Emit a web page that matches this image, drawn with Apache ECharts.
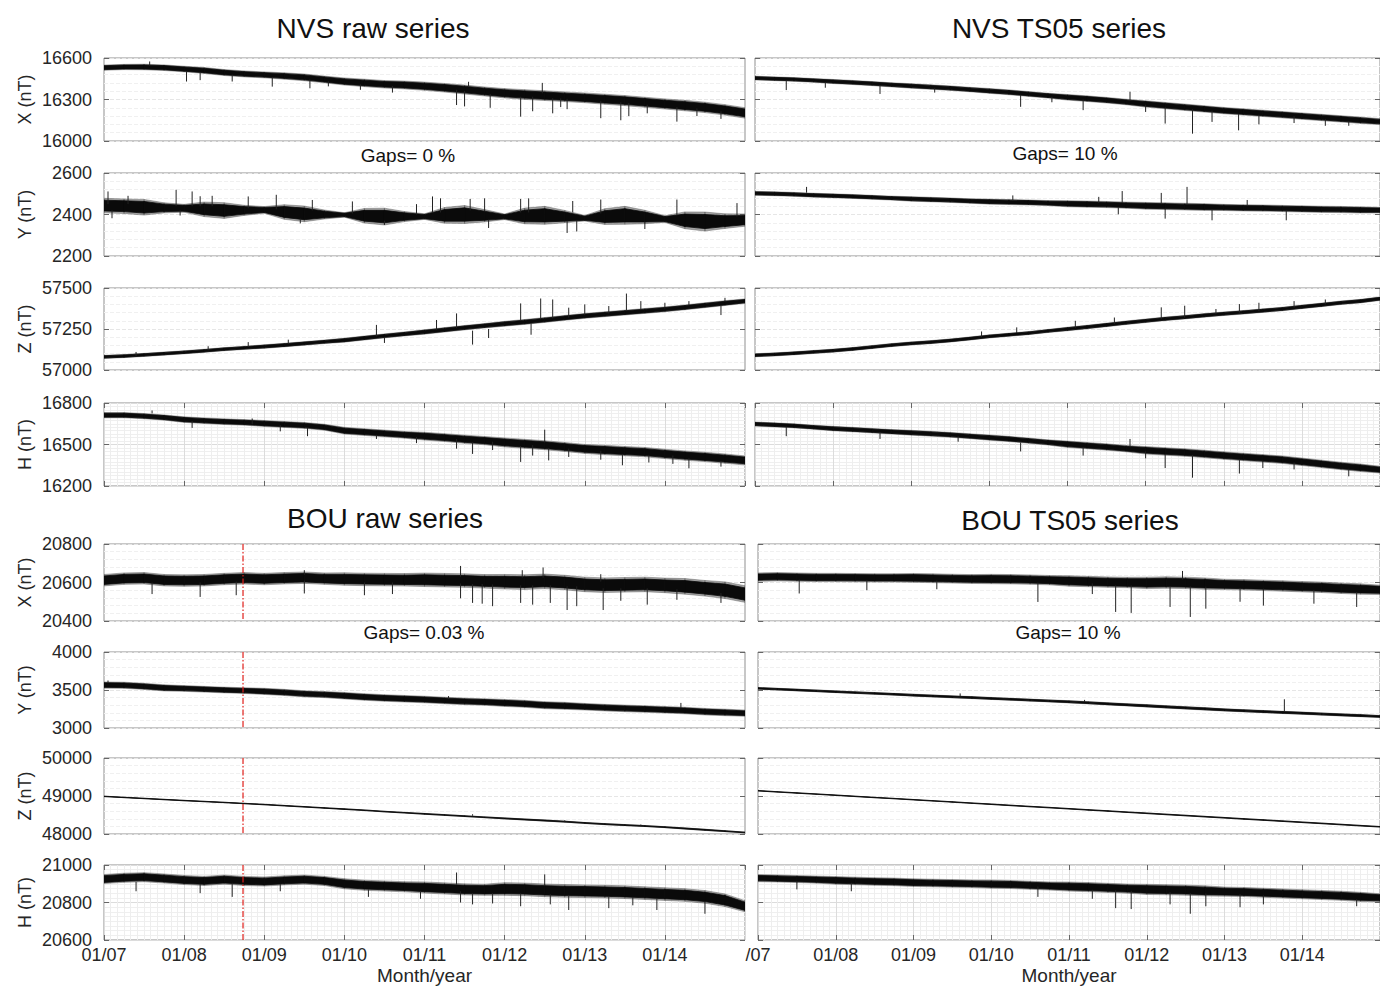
<!DOCTYPE html>
<html><head><meta charset="utf-8">
<script src="https://cdn.jsdelivr.net/npm/echarts@6/dist/echarts.min.js"></script>
<style>html,body{margin:0;padding:0;background:#fff;overflow:hidden}#c{width:1380px;height:986px}</style>
</head><body><div id="c"></div>
<script>
// quarterly sample times (decimal year)
const T = [2007,2007.25,2007.5,2007.75,2008,2008.25,2008.5,2008.75,2009,2009.25,2009.5,2009.75,2010,2010.25,2010.5,2010.75,2011,2011.25,2011.5,2011.75,2012,2012.25,2012.5,2012.75,2013,2013.25,2013.5,2013.75,2014,2014.25,2014.5,2014.75,2015];
const xLabelsLeft  = ['01/07','01/08','01/09','01/10','01/11','01/12','01/13','01/14'];
const xLabelsRight = ['/07','01/08','01/09','01/10','01/11','01/12','01/13','01/14'];
const markerTime = 2008.735;

// mid = centre of the noise band, amp = half-width of the dense core, spk = [time, from, to] single excursions

// ---- NVS raw ----
const nvsRawX_mid = [16530,16535,16535,16530,16520,16510,16495,16485,16478,16470,16460,16445,16430,16420,16410,16405,16396,16385,16372,16358,16345,16336,16328,16320,16312,16302,16292,16280,16268,16256,16243,16225,16203];
const nvsRawX_amp = [14,14,15,15,15,16,16,16,16,17,18,18,19,20,20,21,22,23,24,24,25,26,26,26,26,27,27,27,27,28,28,28,28];
const nvsRawX_spk = [[2007.57,16545,16575],[2008.03,16505,16430],[2008.2,16500,16440],[2008.6,16480,16430],[2009.1,16462,16393],[2009.57,16445,16381],[2009.8,16432,16395],[2010.2,16410,16370],[2010.6,16398,16350],[2011.4,16370,16260],[2011.5,16362,16250],[2011.55,16395,16428],[2011.82,16340,16240],[2012.2,16320,16176],[2012.35,16320,16215],[2012.47,16345,16420],[2012.6,16310,16200],[2012.7,16308,16245],[2012.78,16305,16230],[2013.2,16290,16165],[2013.45,16280,16150],[2013.55,16275,16180],[2013.78,16262,16200],[2014.15,16245,16140],[2014.4,16235,16180],[2014.7,16215,16160]];

const nvsRawY_mid = [2443,2440,2435,2432,2430,2425,2419,2420,2422,2412,2403,2400,2398,2394,2390,2390,2390,2396,2400,2394,2389,2393,2396,2390,2382,2390,2396,2388,2378,2372,2366,2368,2373];
const nvsRawY_amp = [26,26,28,18,14,26,28,18,12,26,28,16,8,26,30,18,10,28,32,22,10,28,32,22,10,28,32,24,12,30,34,26,22];
const nvsRawY_spk = [[2007.05,2450,2511],[2007.1,2420,2382],[2007.3,2450,2490],[2007.9,2440,2519],[2007.95,2420,2395],[2008.1,2440,2511],[2008.2,2440,2488],[2008.35,2440,2490],[2008.8,2430,2487],[2009.15,2425,2495],[2009.45,2380,2357],[2009.6,2420,2470],[2010.1,2405,2463],[2010.5,2370,2350],[2010.9,2400,2450],[2011.1,2410,2487],[2011.2,2410,2478],[2011.57,2420,2475],[2011.75,2415,2478],[2011.8,2375,2335],[2012.2,2410,2475],[2012.3,2410,2478],[2012.78,2370,2311],[2012.85,2410,2465],[2012.9,2370,2318],[2013.2,2405,2472],[2013.75,2365,2330],[2014.15,2395,2472],[2014.9,2390,2455]];

const nvsRawZ_mid = [57080,57085,57092,57100,57108,57117,57127,57135,57143,57152,57162,57172,57182,57195,57208,57220,57232,57245,57258,57270,57282,57293,57305,57318,57330,57340,57350,57360,57370,57382,57395,57408,57420];
const nvsRawZ_amp = [7,7,7,7,7,7,7,7,8,8,8,8,9,9,9,9,10,10,10,10,11,11,11,11,11,11,11,11,11,11,11,11,10];
const nvsRawZ_spk = [[2007.4,57085,57110],[2008.3,57120,57145],[2008.8,57140,57170],[2009.3,57160,57185],[2010.4,57205,57275],[2010.5,57200,57165],[2011.15,57245,57305],[2011.4,57255,57345],[2011.6,57240,57155],[2011.8,57250,57195],[2012.2,57300,57406],[2012.33,57285,57215],[2012.45,57310,57436],[2012.6,57315,57430],[2012.8,57320,57380],[2013.0,57335,57400],[2013.3,57345,57390],[2013.52,57360,57466],[2013.7,57365,57420],[2014.0,57375,57410],[2014.3,57395,57420],[2014.7,57395,57335],[2014.75,57415,57440]];

const nvsRawH_mid = [16712,16712,16705,16695,16680,16672,16665,16660,16652,16645,16638,16625,16600,16590,16580,16570,16560,16550,16538,16528,16515,16505,16495,16482,16468,16460,16452,16445,16432,16420,16410,16398,16385];
const nvsRawH_amp = [14,14,14,14,15,15,15,15,16,16,16,16,18,18,18,18,21,21,22,22,24,24,24,24,24,25,25,25,25,25,25,25,24];
const nvsRawH_spk = [[2007.6,16725,16746],[2008.1,16670,16620],[2008.85,16645,16688],[2009.2,16640,16595],[2009.54,16620,16560],[2010.4,16570,16540],[2010.9,16555,16510],[2011.4,16540,16470],[2011.6,16515,16432],[2011.85,16520,16460],[2012.2,16490,16374],[2012.35,16495,16420],[2012.5,16515,16607],[2012.55,16475,16385],[2012.8,16470,16410],[2013.2,16455,16390],[2013.47,16430,16350],[2013.8,16420,16370],[2014.1,16420,16360],[2014.3,16400,16328],[2014.7,16380,16340]];

// ---- NVS TS05 ----
const nvsTsX_mid = [16455,16450,16445,16438,16430,16423,16415,16406,16398,16390,16382,16372,16362,16352,16340,16328,16316,16306,16295,16282,16268,16256,16244,16232,16220,16210,16200,16190,16180,16170,16160,16150,16140];
const nvsTsX_amp = [10,10,10,10,11,11,11,11,12,12,12,12,13,13,13,13,15,15,15,15,17,17,17,17,17,17,17,17,17,17,17,17,16];
const nvsTsX_spk = [[2007.4,16440,16368],[2007.9,16425,16385],[2008.6,16405,16340],[2009.3,16385,16350],[2010.4,16335,16247],[2010.8,16320,16280],[2011.2,16300,16223],[2011.8,16295,16356],[2012.0,16262,16210],[2012.25,16245,16126],[2012.6,16230,16053],[2012.85,16220,16138],[2013.19,16195,16077],[2013.45,16190,16120],[2013.9,16180,16130],[2014.3,16160,16110],[2014.6,16140,16110]];

const nvsTsY_mid = [2502,2500,2497,2493,2490,2487,2483,2479,2475,2472,2469,2465,2462,2460,2458,2455,2452,2450,2448,2445,2442,2440,2438,2436,2434,2432,2431,2429,2427,2425,2424,2422,2421];
const nvsTsY_amp = [7,7,7,7,7,7,7,7,8,8,8,8,9,9,9,9,11,11,11,11,12,12,12,12,11,11,11,11,11,11,11,11,10];
const nvsTsY_spk = [[2007.66,2505,2533],[2010.3,2465,2492],[2011.4,2455,2485],[2011.7,2455,2513],[2012.2,2450,2504],[2012.53,2450,2533],[2011.65,2435,2401],[2012.85,2425,2372],[2013.8,2420,2372],[2012.25,2430,2380],[2013.3,2440,2470]];

const nvsTsZ_mid = [57090,57095,57102,57110,57118,57128,57140,57152,57162,57170,57180,57192,57205,57215,57225,57238,57250,57262,57275,57288,57300,57312,57322,57333,57343,57352,57362,57372,57385,57397,57410,57420,57435];
const nvsTsZ_amp = [7,7,7,7,7,7,7,7,7,7,7,7,7,7,7,7,8,8,8,8,8,8,8,8,8,8,8,8,8,8,8,8,8];
const nvsTsZ_spk = [[2009.9,57200,57235],[2010.35,57225,57260],[2011.1,57255,57300],[2011.6,57280,57320],[2012.2,57310,57382],[2012.5,57320,57392],[2012.9,57340,57372],[2013.2,57350,57402],[2013.45,57360,57410],[2013.9,57380,57420],[2014.3,57400,57430]];

const nvsTsH_mid = [16648,16642,16635,16625,16615,16608,16600,16592,16585,16578,16570,16560,16550,16540,16528,16515,16502,16492,16482,16470,16458,16450,16442,16432,16420,16410,16400,16390,16375,16360,16345,16332,16318];
const nvsTsH_amp = [11,11,11,11,12,12,12,12,13,13,13,13,14,14,14,14,17,17,17,17,20,20,20,20,20,20,20,20,20,20,20,20,18];
const nvsTsH_spk = [[2007.4,16630,16560],[2008.6,16590,16540],[2009.6,16560,16520],[2010.4,16515,16450],[2011.2,16480,16420],[2011.8,16480,16540],[2012.0,16450,16400],[2012.25,16430,16330],[2012.6,16425,16260],[2013.2,16395,16290],[2013.5,16385,16330],[2013.9,16370,16320],[2014.6,16325,16270]];

// ---- BOU raw ----
const bouRawX_mid = [20612,20620,20622,20612,20610,20612,20618,20622,20618,20622,20625,20620,20618,20616,20615,20614,20614,20612,20610,20606,20604,20602,20606,20600,20590,20586,20588,20590,20585,20580,20570,20560,20540];
const bouRawX_amp = [22,22,22,22,22,22,22,22,22,22,22,22,24,24,24,24,26,26,26,26,28,28,28,28,28,28,28,28,28,30,30,32,32];
const bouRawX_spk = [[2007.6,20600,20540],[2008.2,20600,20525],[2008.65,20605,20534],[2009.5,20610,20543],[2009.5,20640,20664],[2010.25,20600,20534],[2010.6,20600,20540],[2011.45,20595,20518],[2011.45,20630,20686],[2011.6,20592,20494],[2011.72,20592,20490],[2011.85,20590,20477],[2012.2,20585,20494],[2012.22,20625,20664],[2012.35,20585,20485],[2012.48,20625,20678],[2012.57,20585,20494],[2012.78,20580,20457],[2012.9,20580,20477],[2013.2,20605,20643],[2013.23,20570,20457],[2013.45,20570,20505],[2013.78,20570,20485],[2014.15,20565,20510],[2014.7,20545,20494]];

const bouRawY_mid = [3565,3562,3548,3528,3520,3510,3500,3492,3482,3468,3450,3440,3425,3408,3395,3385,3375,3362,3350,3342,3330,3318,3300,3292,3280,3268,3258,3250,3240,3230,3215,3205,3195];
const bouRawY_amp = [30,30,30,30,28,28,28,28,30,30,30,30,32,32,32,32,32,32,32,32,34,34,34,34,32,32,32,32,32,32,32,32,30];
const bouRawY_spk = [[2014.2,3260,3330],[2007.05,3590,3625],[2011.3,3380,3420]];

const bouRawZ_mid = [48990,48962,48935,48907,48880,48855,48830,48802,48775,48745,48715,48685,48655,48625,48590,48560,48530,48500,48470,48440,48410,48382,48355,48325,48290,48260,48235,48210,48180,48145,48110,48075,48040];
const bouRawZ_amp = [5,5,5,5,5,5,5,5,6,6,6,6,7,7,7,7,9,9,9,9,11,11,12,11,10,11,11,10,10,12,12,10,8];
const bouRawZ_spk = [[2011.6,48480,48520],[2012.75,48320,48360],[2013.7,48220,48250]];

const bouRawH_mid = [20925,20932,20935,20928,20920,20915,20922,20915,20912,20918,20922,20915,20900,20892,20888,20884,20880,20875,20870,20868,20872,20870,20865,20862,20860,20858,20855,20850,20845,20840,20830,20812,20780];
const bouRawH_amp = [18,18,18,18,18,18,18,18,18,18,18,18,20,20,20,20,22,22,22,22,25,25,25,25,25,25,25,25,25,25,25,25,22];
const bouRawH_spk = [[2007.4,20910,20860],[2008.2,20900,20850],[2008.6,20905,20830],[2009.2,20900,20860],[2010.3,20870,20830],[2010.95,20862,20820],[2011.4,20895,20960],[2011.45,20860,20800],[2011.6,20850,20790],[2011.85,20850,20795],[2012.2,20848,20780],[2012.5,20890,20950],[2012.57,20845,20790],[2012.8,20840,20760],[2013.3,20835,20770],[2013.6,20830,20785],[2013.9,20822,20760],[2014.5,20808,20740]];

// ---- BOU TS05 ----
const bouTsX_mid = [20628,20630,20628,20626,20626,20625,20624,20624,20624,20622,20620,20618,20618,20617,20615,20612,20608,20605,20602,20600,20598,20600,20598,20594,20590,20588,20585,20582,20578,20575,20570,20566,20562];
const bouTsX_amp = [16,16,16,16,16,16,16,16,17,17,17,17,18,18,18,18,20,20,20,20,22,22,22,22,20,20,20,20,20,20,20,20,18];
const bouTsX_spk = [[2007.53,20615,20543],[2008.4,20612,20560],[2009.3,20610,20565],[2010.6,20600,20499],[2011.3,20595,20540],[2011.6,20585,20447],[2011.8,20585,20442],[2012.3,20580,20473],[2012.46,20615,20660],[2012.56,20580,20421],[2012.76,20578,20464],[2013.2,20572,20500],[2013.5,20568,20480],[2014.15,20562,20490],[2014.7,20550,20473]];

const bouTsY_mid = [3522,3511,3500,3489,3477,3466,3455,3444,3432,3421,3410,3400,3389,3378,3367,3356,3345,3332,3318,3305,3292,3278,3265,3252,3238,3227,3216,3205,3195,3184,3173,3163,3152];
const bouTsY_amp = [9,9,9,9,9,9,9,9,10,10,10,10,10,10,10,10,11,11,11,11,12,12,12,12,11,11,11,11,11,11,11,11,10];
const bouTsY_spk = [[2009.6,3415,3455],[2013.77,3215,3378],[2011.2,3340,3370]];

const bouTsZ_mid = [49138,49108,49079,49050,49021,48990,48960,48932,48902,48872,48843,48812,48783,48752,48722,48694,48664,48634,48605,48574,48545,48515,48486,48456,48427,48396,48368,48338,48308,48279,48249,48219,48190];
const bouTsZ_amp = [5,5,5,5,5,5,5,5,5,5,5,5,6,6,6,6,6,6,6,6,7,7,7,7,7,7,7,7,7,7,7,7,6];
const bouTsZ_spk = [];

const bouTsH_mid = [20930,20928,20925,20922,20918,20915,20912,20910,20906,20904,20902,20900,20898,20896,20892,20888,20885,20882,20878,20874,20870,20868,20866,20862,20858,20856,20852,20848,20844,20840,20836,20830,20825];
const bouTsH_amp = [14,14,14,14,15,15,15,15,15,15,15,15,16,16,16,16,18,18,18,18,20,20,20,20,18,18,18,18,18,18,18,18,16];
const bouTsH_spk = [[2007.5,20915,20870],[2008.2,20905,20860],[2010.6,20885,20830],[2011.3,20868,20820],[2011.6,20865,20770],[2011.8,20862,20765],[2012.3,20855,20790],[2012.56,20850,20740],[2012.76,20848,20780],[2013.2,20845,20775],[2013.5,20838,20790],[2014.7,20818,20780]];

// axis ranges [min, max, interval] and names
const compNames = ['X (nT)','Y (nT)','Z (nT)','H (nT)'];
const nvsRanges = [[16000,16600,300],[2200,2600,200],[57000,57500,250],[16200,16800,300]];
const bouRanges = [[20400,20800,200],[3000,4000,500],[48000,50000,1000],[20600,21000,200]];

const FONT = '"Liberation Sans", Arial, Helvetica, sans-serif';

const panels = [
  {st:'NVS',col:0,row:0,mid:nvsRawX_mid,amp:nvsRawX_amp,spk:nvsRawX_spk},
  {st:'NVS',col:0,row:1,mid:nvsRawY_mid,amp:nvsRawY_amp,spk:nvsRawY_spk},
  {st:'NVS',col:0,row:2,mid:nvsRawZ_mid,amp:nvsRawZ_amp,spk:nvsRawZ_spk},
  {st:'NVS',col:0,row:3,mid:nvsRawH_mid,amp:nvsRawH_amp,spk:nvsRawH_spk},
  {st:'NVS',col:1,row:0,mid:nvsTsX_mid,amp:nvsTsX_amp,spk:nvsTsX_spk},
  {st:'NVS',col:1,row:1,mid:nvsTsY_mid,amp:nvsTsY_amp,spk:nvsTsY_spk},
  {st:'NVS',col:1,row:2,mid:nvsTsZ_mid,amp:nvsTsZ_amp,spk:nvsTsZ_spk},
  {st:'NVS',col:1,row:3,mid:nvsTsH_mid,amp:nvsTsH_amp,spk:nvsTsH_spk},
  {st:'BOU',col:0,row:0,mid:bouRawX_mid,amp:bouRawX_amp,spk:bouRawX_spk},
  {st:'BOU',col:0,row:1,mid:bouRawY_mid,amp:bouRawY_amp,spk:bouRawY_spk},
  {st:'BOU',col:0,row:2,mid:bouRawZ_mid,amp:bouRawZ_amp,spk:bouRawZ_spk},
  {st:'BOU',col:0,row:3,mid:bouRawH_mid,amp:bouRawH_amp,spk:bouRawH_spk},
  {st:'BOU',col:1,row:0,mid:bouTsX_mid,amp:bouTsX_amp,spk:bouTsX_spk},
  {st:'BOU',col:1,row:1,mid:bouTsY_mid,amp:bouTsY_amp,spk:bouTsY_spk},
  {st:'BOU',col:1,row:2,mid:bouTsZ_mid,amp:bouTsZ_amp,spk:bouTsZ_spk},
  {st:'BOU',col:1,row:3,mid:bouTsH_mid,amp:bouTsH_amp,spk:bouTsH_spk}
];

const rowGeomNVS = [[58,83],[173,83],[288,82],[403,83]];
const rowGeomBOU = [[544,77],[652,76],[758,76],[865,77]];
const colLeft = {NVS:[104,755], BOU:[104,758]};
const colWidth = [641,640];
const HALO = 1.35;

const grids=[], xAxes=[], yAxes=[], series=[];

function makeBand(scale, fill, opacity){
  return function(params, api){
    const t0=api.value(0), m0=api.value(1), a0=api.value(2)*scale;
    const t1=api.value(3), m1=api.value(4), a1=api.value(5)*scale;
    const p1=api.coord([t0,m0+a0]), p2=api.coord([t1,m1+a1]), p3=api.coord([t1,m1-a1]), p4=api.coord([t0,m0-a0]);
    return {type:'polygon', shape:{points:[p1,p2,p3,p4]}, style:{fill:fill, stroke:fill, lineWidth:0.8, opacity:opacity}};
  };
}
const coreItem = makeBand(1, '#0a0a0a', 1);
const haloItem = makeBand(HALO, '#4a4a4a', 0.5);
function spikeItem(params, api){
  const a=api.coord([api.value(0),api.value(1)]);
  const b=api.coord([api.value(0),api.value(2)]);
  return {type:'line', shape:{x1:a[0],y1:a[1],x2:b[0],y2:b[1]}, style:{stroke:'#222', lineWidth:1}};
}
function markerItem(params, api){
  const cs=params.coordSys;
  const x=api.coord([api.value(0), 0])[0];
  return {type:'line', shape:{x1:x,y1:cs.y,x2:x,y2:cs.y+cs.height}, style:{stroke:'#e0201b', lineWidth:1.2, lineDash:[6,2,1.5,2]}};
}

panels.forEach((p,k)=>{
  const g = (p.st==='NVS'?rowGeomNVS:rowGeomBOU)[p.row];
  const rng = (p.st==='NVS'?nvsRanges:bouRanges)[p.row];
  const isH = p.row===3;
  const showXLabels = isH && p.st==='BOU';
  grids.push({left:colLeft[p.st][p.col], top:g[0], width:colWidth[p.col], height:g[1], show:true, borderColor:'#8f8f8f', borderWidth:1, backgroundColor:'#fff'});
  const labels = p.col===0?xLabelsLeft:xLabelsRight;
  xAxes.push({
    gridIndex:k, type:'value', min:2007, max:2015, interval:1, position:'bottom',
    axisLine:{show:false},
    axisTick:{show:isH, inside:true, length:5, lineStyle:{color:'#666'}},
    axisLabel:{show:showXLabels, showMaxLabel:false, margin:6, fontSize:18, color:'#262626', fontFamily:FONT,
      formatter:(v)=>{const i=Math.round(v-2007); return i<labels.length?labels[i]:'';}},
    splitLine:{show:isH, lineStyle:{color:'#dcdcdc', width:1}},
    minorTick:{show:false, splitNumber:12},
    minorSplitLine:{show:isH, lineStyle:{color:'#eeeeee', width:1}},
    name: showXLabels?'Month/year':'', nameLocation:'middle', nameGap:26,
    nameTextStyle:{fontSize:19, color:'#262626', fontFamily:FONT}
  });
  xAxes.push({
    gridIndex:k, type:'value', min:2007, max:2015, interval:1, position:'top',
    axisLine:{show:false}, axisTick:{show:isH, inside:true, length:5, lineStyle:{color:'#666'}},
    axisLabel:{show:false}, splitLine:{show:false}
  });
  yAxes.push({
    gridIndex:k, type:'value', min:rng[0], max:rng[1], interval:rng[2], position:'left',
    axisLine:{show:false},
    axisTick:{show:true, inside:true, length:5, lineStyle:{color:'#666'}},
    axisLabel:{show:p.col===0, margin:12, fontSize:18, color:'#262626', fontFamily:FONT, formatter:(v)=>String(v)},
    splitLine:{show:true, lineStyle:{color:isH?'#dcdcdc':'#e6e6e6', type:isH?'solid':'dashed', width:1}},
    minorTick:{show:false, splitNumber: isH?(p.st==='NVS'?12:8):5},
    minorSplitLine:{show:true, lineStyle:{color:isH?'#efefef':'#f0f0f0', type:isH?'solid':'dashed', width:1}},
    name: p.col===0?compNames[p.row]:'', nameLocation:'middle', nameRotate:90, nameGap:70,
    nameTextStyle:{fontSize:18, color:'#262626', fontFamily:FONT}
  });
  yAxes.push({
    gridIndex:k, type:'value', min:rng[0], max:rng[1], interval:rng[2], position:'right',
    axisLine:{show:false}, axisTick:{show:true, inside:true, length:5, lineStyle:{color:'#666'}},
    axisLabel:{show:false}, splitLine:{show:false}
  });
  const seg=[];
  for(let i=0;i<T.length-1;i++){
    seg.push([T[i], p.mid[i], p.amp[i], T[i+1], p.mid[i+1], p.amp[i+1]]);
  }
  series.push({type:'custom', xAxisIndex:2*k, yAxisIndex:2*k, renderItem:haloItem, data:seg, clip:true, silent:true,
    encode:{x:[0,3], y:[1,4]}, z:2});
  series.push({type:'custom', xAxisIndex:2*k, yAxisIndex:2*k, renderItem:coreItem, data:seg, clip:true, silent:true,
    encode:{x:[0,3], y:[1,4]}, z:3});
  if(p.spk && p.spk.length){
    series.push({type:'custom', xAxisIndex:2*k, yAxisIndex:2*k, renderItem:spikeItem, data:p.spk, clip:true, silent:true,
      encode:{x:0, y:[1,2]}, z:4});
  }
  if(p.st==='BOU' && p.col===0){
    series.push({type:'custom', xAxisIndex:2*k, yAxisIndex:2*k, renderItem:markerItem, data:[[markerTime]], clip:false, silent:true,
      encode:{x:0}, z:5});
  }
});

function txt(s,x,y,size){
  return {type:'text', x:x, y:y, z:100, style:{text:s, font:size+'px '+FONT, fill:'#111', textAlign:'center', textVerticalAlign:'middle', align:'center', verticalAlign:'middle'}};
}
const graphics = [
  txt('NVS raw series',373,28,28), txt('NVS TS05 series',1059,28,28),
  txt('BOU raw series',385,518,28), txt('BOU TS05 series',1070,520,28),
  txt('Gaps= 0 %',408,155,19), txt('Gaps= 10 %',1065,153,19),
  txt('Gaps= 0.03 %',424,632,19), txt('Gaps= 10 %',1068,632,19)
];

const chart = echarts.init(document.getElementById('c'), null, {renderer:'svg'});
chart.setOption({
  animation:false, backgroundColor:'#fff',
  textStyle:{fontFamily:FONT},
  grid:grids, xAxis:xAxes, yAxis:yAxes, series:series, graphic:graphics
});
</script>
</body></html>
